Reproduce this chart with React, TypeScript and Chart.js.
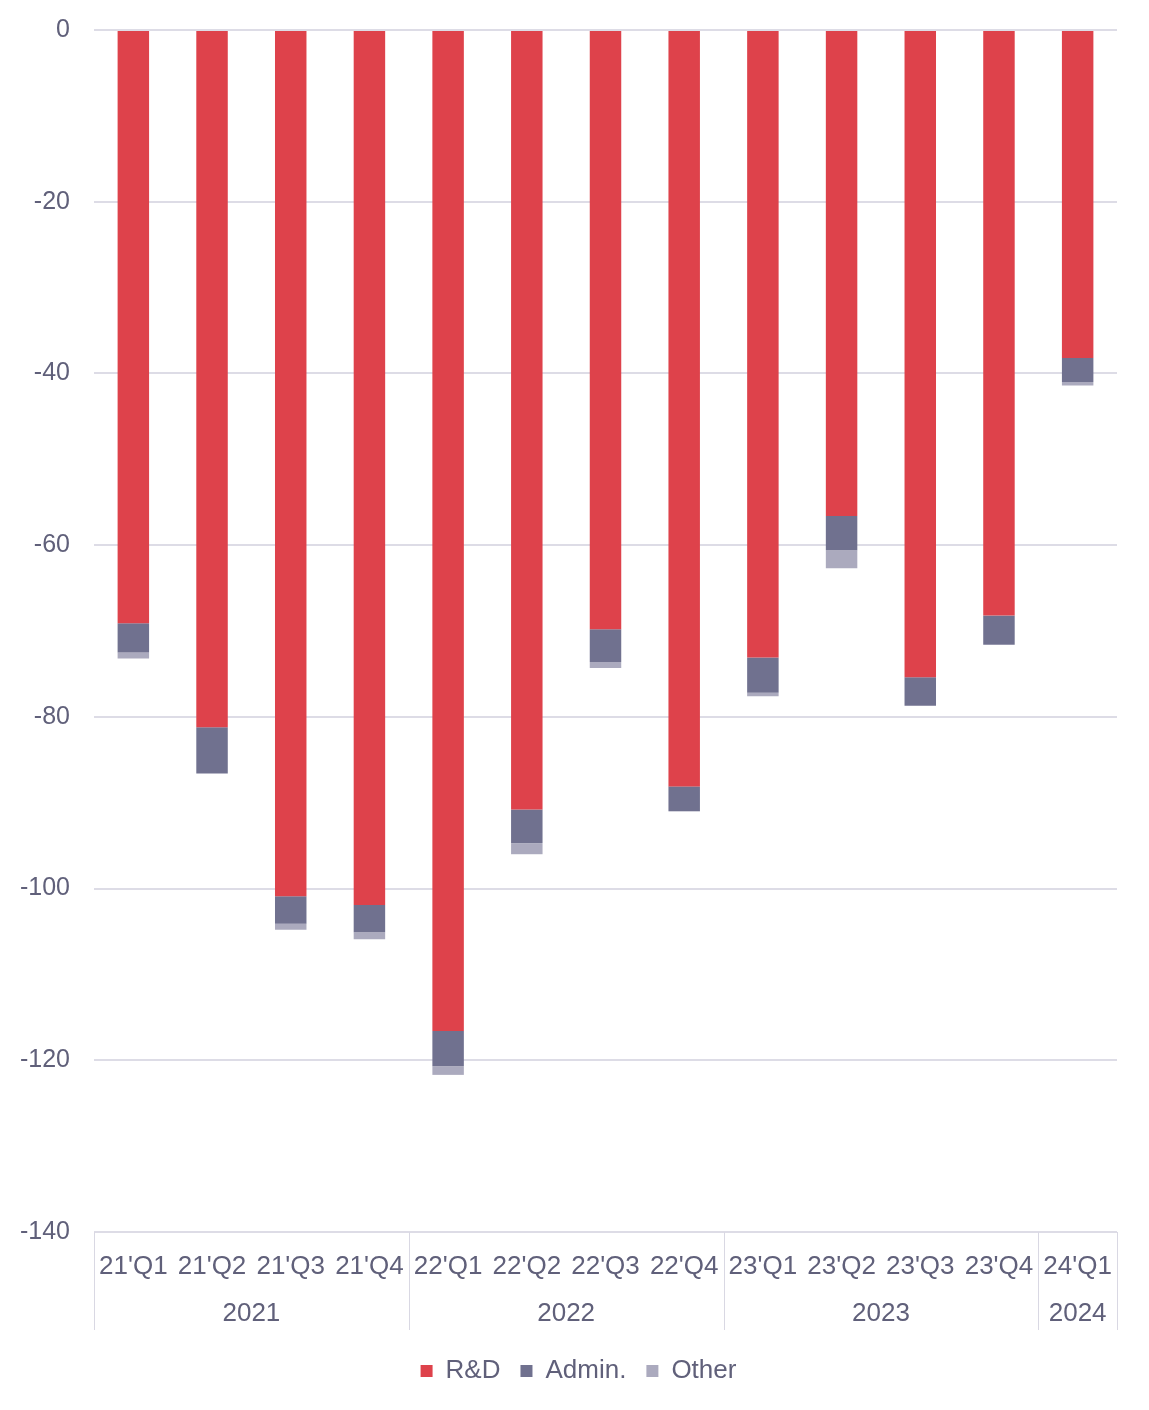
import React, { useEffect, useRef } from "react";
import { Chart, registerables } from "chart.js";

Chart.register(...registerables);

const quarters = ["21'Q1", "21'Q2", "21'Q3", "21'Q4", "22'Q1", "22'Q2", "22'Q3", "22'Q4", "23'Q1", "23'Q2", "23'Q3", "23'Q4", "24'Q1"];
const years = ["2021", "2022", "2023", "2024"];
const yearGroupSizes = [4, 4, 4, 1];

const rdValues = [-69.1, -81.2, -100.9, -101.9, -116.6, -90.8, -69.8, -88.1, -73.1, -56.6, -75.4, -68.2, -38.2];
const adminValues = [-3.4, -5.4, -3.2, -3.2, -4.1, -3.9, -3.8, -2.9, -4.1, -4.0, -3.3, -3.4, -2.8];
const otherValues = [-0.7, 0, -0.7, -0.8, -1.0, -1.3, -0.7, 0, -0.4, -2.1, 0, 0, -0.4];

const yTicks = [0, -20, -40, -60, -80, -100, -120, -140];

const FONT = "'Liberation Sans', Arial, Helvetica, sans-serif";
const TEXT = "#60607a";
const GRID = "#dddce6";

const groupPlugin = {
  id: "yearGroups",
  afterLayout(chart: any) {
    if (chart.legend) {
      chart.legend.left += 20;
      chart.legend.right += 20;
      chart.legend.top += 2;
      chart.legend.bottom += 2;
    }
  },
  afterDraw(chart: any) {
    const x = chart.scales.x;
    const area = chart.chartArea;
    const ctx = chart.ctx;
    const top = area.bottom;
    const bottom = area.bottom + 98;
    const bounds: number[] = [area.left];
    let idx = 0;
    yearGroupSizes.forEach((n, gi) => {
      idx += n;
      if (gi < yearGroupSizes.length - 1) {
        bounds.push((x.getPixelForValue(idx - 1) + x.getPixelForValue(idx)) / 2);
      }
    });
    bounds.push(area.right);
    ctx.save();
    ctx.strokeStyle = "#d9d8e3";
    ctx.lineWidth = 1;
    bounds.forEach((b) => {
      const bx = Math.round(b) + 0.5;
      ctx.beginPath();
      ctx.moveTo(bx, top);
      ctx.lineTo(bx, bottom);
      ctx.stroke();
    });
    ctx.fillStyle = TEXT;
    ctx.font = `26px ${FONT}`;
    ctx.textAlign = "center";
    ctx.textBaseline = "middle";
    years.forEach((yr, i) => {
      ctx.fillText(yr, (bounds[i] + bounds[i + 1]) / 2, area.bottom + 82);
    });
    ctx.restore();
  },
};

export default function App() {
  const ref = useRef<HTMLCanvasElement | null>(null);
  useEffect(() => {
    if (!ref.current) return;
    const chart = new Chart(ref.current, {
      type: "bar",
      data: {
        labels: quarters,
        datasets: [
          { label: "R&D", data: rdValues, backgroundColor: "#de424b" },
          { label: "Admin.", data: adminValues, backgroundColor: "#70718f" },
          { label: "Other", data: otherValues, backgroundColor: "#abaabe" },
        ],
      },
      options: {
        animation: false,
        responsive: false,
        devicePixelRatio: 1,
        layout: { padding: { top: 30, right: 32, bottom: 18, left: 0 } },
        datasets: { bar: { barPercentage: 0.4, categoryPercentage: 1 } },
        plugins: {
          legend: {
            position: "bottom",
            labels: {
              color: TEXT,
              font: { size: 26, family: FONT },
              boxWidth: 12,
              boxHeight: 12,
              padding: 20,
            },
          },
          tooltip: { enabled: false },
        },
        scales: {
          x: {
            stacked: true,
            grid: { display: false, drawTicks: false },
            border: { display: false },
            ticks: {
              color: TEXT,
              font: { size: 26, family: FONT },
              padding: 19,
              maxRotation: 0,
              autoSkip: false,
            },
            afterFit(scale: any) {
              scale.height = 104;
            },
          },
          y: {
            stacked: true,
            min: -140,
            max: 0,
            grid: { color: GRID, lineWidth: 2, drawTicks: false },
            border: { display: false },
            afterBuildTicks(scale: any) {
              scale.ticks = yTicks.map((v) => ({ value: v }));
            },
            ticks: {
              color: TEXT,
              font: { size: 25, family: FONT },
              padding: 24,
            },
            afterFit(scale: any) {
              scale.width = 94;
              scale.paddingTop = 0;
              scale.paddingBottom = 0;
            },
          },
        },
      },
      plugins: [groupPlugin],
    });
    return () => chart.destroy();
  }, []);
  return (
    <div style={{ position: "absolute", left: 0, top: 0, width: 1149, height: 1410, background: "#fff" }}>
      <canvas ref={ref} width={1149} height={1410} />
    </div>
  );
}
